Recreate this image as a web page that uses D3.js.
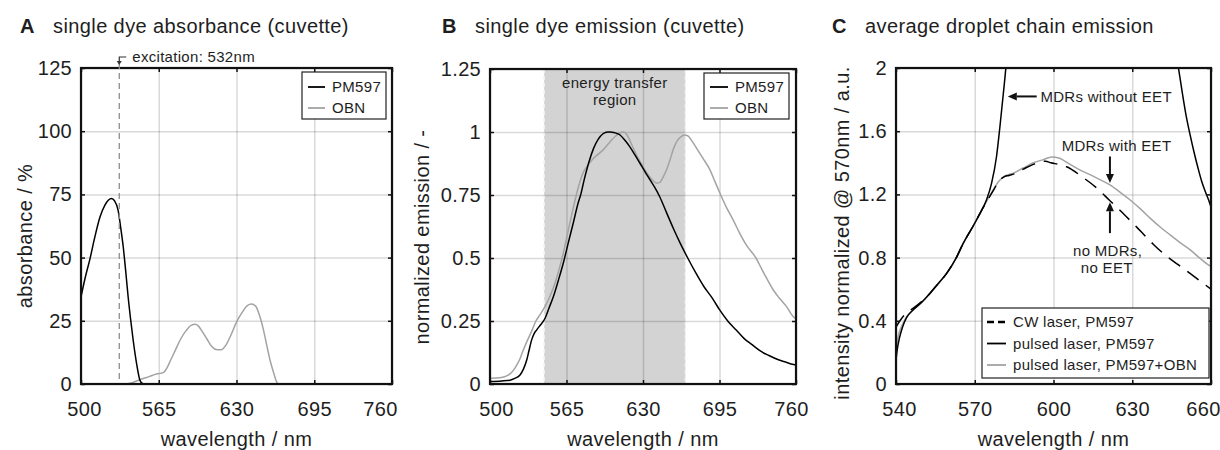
<html>

<head>
  <script src="https://d3js.org/d3.v7.min.js"></script>

  <style>
    body {
      margin: 0;
      background: #fff;
    }

    svg text {
      font-family: "Liberation Sans", Arial, sans-serif;
      fill: #1e1e1e;
    }

    .axis text {
      font-size: 20px;
      letter-spacing: 0.3px;
    }

    .axis line {
      stroke: #111;
      stroke-width: 1.5;
    }

    .axis .domain,
    .gridlines .domain {
      stroke: none;
    }

    .gridlines line {
      stroke: #000;
      stroke-opacity: 0.15;
      stroke-width: 1.5;
    }

    .label {
      font-size: 20px;
      letter-spacing: 0.4px;
    }

    .note {
      font-size: 15px;
      letter-spacing: 0.3px;
    }
  </style>
</head>

<body>
  <svg id="fig" width="1220" height="450"></svg>

  <script>
    // ---- A: absorbance ----
    const absTicksX = [500, 565, 630, 695, 760];
    const absTicksY = [0, 25, 50, 75, 100, 125];
    const excitation = 532;
    const absPM597 = [[500, 34.5], [504, 43], [507.5, 49.5], [511, 57], [515.8, 66], [520, 70.8], [523, 72.8],
    [525.5, 73.4], [528, 72.5], [531, 68.8], [533, 62.5], [535.3, 54.3], [537.5, 44], [539.4, 34.5], [541.5, 25.5],
    [543.6, 17.4], [546.4, 8.3], [549.2, 1.6], [551, 0.3], [553, 0]];
    const absOBN = [[537, 0], [542, 0.4], [547, 1.3], [552, 2.2], [557.5, 3], [562, 3.8], [566, 4.2], [569, 4.6],
    [572, 6.5], [575, 9.5], [579, 13.5], [583, 17.5], [588, 21.2], [592, 23.2], [595.5, 23.6], [598, 23], [601, 21],
    [605, 18], [609, 15], [613, 13.6], [617, 13.5], [621, 15.3], [625, 19], [630, 24.5], [635, 28.5], [639, 31],
    [642.5, 31.6], [646, 30.8], [649, 27.5], [652, 22.5], [655, 16], [658, 9.5], [661, 4.5], [663, 1.5], [664.5, 0]];

    // ---- B: emission ----
    const emTicksX = [500, 565, 630, 695, 760];
    const emTicksY = [0, 0.25, 0.5, 0.75, 1, 1.25];
    const transferRegion = [546, 666];
    const emPM597 = [[500, 0.01], [510, 0.012], [517, 0.015], [521, 0.022], [525.5, 0.036], [528.5, 0.06],
    [531.2, 0.095], [533, 0.13], [535.4, 0.175], [537.5, 0.2], [539.7, 0.215], [543, 0.235], [546.7, 0.26],
    [550, 0.3], [553.8, 0.346], [558, 0.41], [562.3, 0.48], [566.5, 0.56], [570.8, 0.64], [575, 0.72], [577, 0.75],
    [580, 0.81], [584, 0.88], [588, 0.935], [592, 0.972], [596, 0.993], [600, 1.0], [602, 1.0], [606, 0.997],
    [610.5, 0.988], [615, 0.965], [619, 0.94], [623, 0.91], [627.4, 0.876], [632, 0.84], [636, 0.81], [640, 0.78],
    [644, 0.745], [650, 0.68], [656, 0.615], [662, 0.555], [668, 0.5], [675, 0.44], [682, 0.385], [689, 0.34],
    [695, 0.295], [702, 0.25], [709, 0.215], [716, 0.18], [723, 0.155], [730, 0.13], [737, 0.113], [744, 0.098],
    [751, 0.087], [758, 0.077], [760, 0.075]];
    const emOBN = [[500, 0.023], [508, 0.025], [513, 0.03], [517, 0.04], [520, 0.055], [522.7, 0.075],
    [525.5, 0.1], [528.3, 0.135], [532, 0.175], [535.4, 0.21], [539, 0.25], [542.5, 0.275], [548.2, 0.32],
    [552, 0.36], [555.2, 0.4], [559, 0.46], [562.3, 0.52], [566.5, 0.61], [570.8, 0.70], [575, 0.78], [579.3, 0.84],
    [583.5, 0.87], [587.8, 0.895], [592, 0.912], [596.3, 0.93], [600, 0.95], [603.3, 0.968], [607, 0.985],
    [610.5, 0.997], [613.5, 1.0], [616.2, 0.99], [619, 0.965], [621.8, 0.935], [626, 0.895], [630.3, 0.86],
    [634.5, 0.83], [638.8, 0.805], [641.5, 0.797], [644.4, 0.8], [647, 0.82], [650, 0.85], [653, 0.89],
    [656, 0.935], [659, 0.965], [662, 0.98], [665, 0.988], [668, 0.985], [671.5, 0.965], [675.6, 0.935],
    [681, 0.895], [686.9, 0.85], [691, 0.805], [695.4, 0.757], [701, 0.70], [706.7, 0.65], [712, 0.6],
    [718, 0.55], [726, 0.5], [731, 0.455], [735, 0.42], [740.7, 0.373], [746, 0.34], [752, 0.307],
    [757.7, 0.267], [760, 0.26]];

    // ---- C: droplet chain ----
    const chainTicksX = [540, 570, 600, 630, 660];
    const chainTicksY = [0, 0.4, 0.8, 1.2, 1.6, 2];
    const chainCW = [[540, 0.36], [541.5, 0.40], [544, 0.45], [546.6, 0.48], [550, 0.525], [553, 0.575],
    [556, 0.635], [559.3, 0.70], [563, 0.80], [565.6, 0.89], [569.4, 1.0], [573.3, 1.12], [577.1, 1.225],
    [579, 1.28], [581, 1.31], [583, 1.32], [585, 1.33], [588.5, 1.36], [592.3, 1.39], [595, 1.405], [597, 1.41],
    [599, 1.40], [602, 1.39], [605, 1.375], [611, 1.31], [616.5, 1.24], [621.5, 1.16], [625.3, 1.10],
    [629.5, 1.03], [633.6, 0.96], [638, 0.885], [643, 0.81], [647.5, 0.755], [652, 0.70], [656, 0.65], [660, 0.60]];
    const chainPulsed = [[540, 0.15], [540.5, 0.22], [541.3, 0.29], [542.5, 0.36], [544, 0.42], [546.6, 0.47],
    [550, 0.52], [553, 0.575], [556, 0.635], [559.3, 0.70], [563, 0.80], [565.6, 0.89], [569.4, 1.0],
    [572, 1.08], [574.5, 1.166], [576.4, 1.27], [578.3, 1.44], [579.6, 1.63], [580.9, 1.84], [581.9, 2.01],
    [583, 2.25], [586, 2.7], [592, 3.2], [605, 3.5], [625, 3.4], [637, 2.9], [643, 2.45], [646, 2.15],
    [647.6, 2.0], [649, 1.85], [650.5, 1.70], [652, 1.58], [653.5, 1.47], [655, 1.37], [656.5, 1.28], [658, 1.21],
    [659.2, 1.16], [660, 1.12]];
    const chainPulsedOBN = [[540, 0.215], [540.8, 0.30], [542, 0.36], [543.5, 0.41], [546.6, 0.47], [550, 0.52],
    [553, 0.575], [556, 0.63], [559.3, 0.70], [563, 0.80], [565.6, 0.89], [569.4, 1.0], [573.3, 1.12],
    [577.1, 1.23], [579, 1.28], [580.9, 1.31], [584.7, 1.335], [588.5, 1.367], [592.3, 1.40], [596.1, 1.42],
    [599.3, 1.437], [602, 1.43], [606.3, 1.39], [610, 1.355], [613.9, 1.325], [617.5, 1.295], [621.5, 1.26],
    [625.3, 1.215], [629.1, 1.166], [633, 1.11], [636.8, 1.05], [640.5, 0.995], [644.4, 0.944], [648.2, 0.895],
    [652, 0.85], [655.5, 0.80], [659, 0.754], [660, 0.745]];

    const svg = d3.select("svg#fig");
    const gray = "#a3a3a3";

    function makePanel(p) {
      const x = d3.scaleLinear().domain(p.xDomain).range([p.left, p.right]);
      const y = d3.scaleLinear().domain(p.yDomain).range([p.bottom, p.top]);
      const w = p.right - p.left, h = p.bottom - p.top;

      svg.append("clipPath").attr("id", p.id + "-clip")
        .append("rect")
        .attr("x", p.left).attr("y", p.top)
        .attr("width", w).attr("height", h);

      const back = svg.append("g").attr("clip-path", `url(#${p.id}-clip)`);

      svg.append("g").attr("class", "gridlines")
        .attr("transform", `translate(0,${p.bottom})`)
        .call(d3.axisBottom(x).tickValues(p.xTicks).tickSize(-h).tickFormat(""));
      svg.append("g").attr("class", "gridlines")
        .attr("transform", `translate(${p.left},0)`)
        .call(d3.axisLeft(y).tickValues(p.yTicks).tickSize(-w).tickFormat(""));

      const plot = svg.append("g").attr("clip-path", `url(#${p.id}-clip)`);

      const bottom = svg.append("g").attr("class", "axis")
        .attr("transform", `translate(0,${p.bottom})`)
        .call(d3.axisBottom(x).tickValues(p.xTicks).tickSizeInner(-4).tickSizeOuter(0).tickPadding(18));
      // the outermost labels sit a little inside the frame
      bottom.selectAll(".tick text")
        .attr("dx", (d, i, n) => i === 0 ? p.firstShift : (i === n.length - 1 ? p.lastShift : 0));

      svg.append("g").attr("class", "axis")
        .attr("transform", `translate(0,${p.top})`)
        .call(d3.axisTop(x).tickValues(p.xTicks).tickSizeInner(-4).tickSizeOuter(0).tickFormat(""));
      svg.append("g").attr("class", "axis")
        .attr("transform", `translate(${p.left},0)`)
        .call(d3.axisLeft(y).tickValues(p.yTicks).tickSizeInner(-4).tickSizeOuter(0).tickPadding(9)
          .tickFormat(d => d));
      svg.append("g").attr("class", "axis")
        .attr("transform", `translate(${p.right},0)`)
        .call(d3.axisRight(y).tickValues(p.yTicks).tickSizeInner(-4).tickSizeOuter(0).tickFormat(""));

      svg.append("rect")
        .attr("x", p.left).attr("y", p.top)
        .attr("width", w).attr("height", h)
        .attr("fill", "none").attr("stroke", "#111").attr("stroke-width", 2.2);

      // title
      const t = svg.append("text").attr("class", "label").attr("y", 33);
      t.append("tspan").attr("x", p.letterX).attr("font-weight", "bold").text(p.letter);
      t.append("tspan").attr("x", p.letterX + 33).text(p.title);

      svg.append("text").attr("class", "label")
        .attr("x", (p.left + p.right) / 2).attr("y", 446)
        .attr("text-anchor", "middle")
        .text("wavelength / nm");

      svg.append("text").attr("class", "label")
        .attr("transform", `translate(${p.yLabelX},${p.yLabelY}) rotate(-90)`)
        .attr("text-anchor", "middle")
        .text(p.yLabel);

      return { x, y, back, plot };
    }

    function drawLine(panel, data, color, dash) {
      const line = d3.line()
        .x(d => panel.x(d[0]))
        .y(d => panel.y(d[1]))
        .curve(d3.curveMonotoneX);
      panel.plot.append("path")
        .datum(data)
        .attr("d", line)
        .attr("fill", "none")
        .attr("stroke", color)
        .attr("stroke-width", 1.5)
        .attr("stroke-dasharray", dash || null);
    }

    function legend(box, items) {
      const g = svg.append("g");
      g.append("rect")
        .attr("x", box.x).attr("y", box.y)
        .attr("width", box.w).attr("height", box.h)
        .attr("fill", "#fff").attr("stroke", "#222").attr("stroke-width", 1.2);
      items.forEach((it, i) => {
        const yy = box.y + box.first + i * box.step;
        g.append("line")
          .attr("x1", box.x + box.pad).attr("x2", box.x + box.pad + box.len)
          .attr("y1", yy).attr("y2", yy)
          .attr("stroke", it.color)
          .attr("stroke-width", it.dash ? 2.5 : 1.8)
          .attr("stroke-dasharray", it.dash || null);
        g.append("text").attr("class", "note")
          .attr("x", box.x + box.pad + box.len + 7).attr("y", yy)
          .attr("dy", "0.36em")
          .text(it.label);
      });
    }

    function arrow(x1, y1, x2, y2) {
      const ang = Math.atan2(y2 - y1, x2 - x1);
      const L = 9, W = 4;
      const bx = x2 - L * Math.cos(ang), by = y2 - L * Math.sin(ang);
      svg.append("line")
        .attr("x1", x1).attr("y1", y1).attr("x2", bx).attr("y2", by)
        .attr("stroke", "#111").attr("stroke-width", 2);
      svg.append("path")
        .attr("d", `M${x2},${y2}L${bx - W * Math.sin(ang)},${by + W * Math.cos(ang)}` +
          `L${bx + W * Math.sin(ang)},${by - W * Math.cos(ang)}Z`)
        .attr("fill", "#111");
    }

    // ---------- panel A ----------
    const pA = makePanel({
      id: "a", left: 81, right: 392, top: 68, bottom: 384,
      xDomain: [500, 760], yDomain: [0, 125], xTicks: absTicksX, yTicks: absTicksY,
      firstShift: 3, lastShift: -12,
      letter: "A", letterX: 20, title: "single dye absorbance (cuvette)",
      yLabel: "absorbance / %", yLabelX: 32, yLabelY: 236
    });
    drawLine(pA, absOBN, gray);
    drawLine(pA, absPM597, "#000");

    const exX = pA.x(excitation);
    svg.append("line")
      .attr("x1", exX).attr("x2", exX).attr("y1", 63).attr("y2", 383)
      .attr("stroke", "#8c8c8c").attr("stroke-width", 1.3).attr("stroke-dasharray", "6,4");
    svg.append("path")
      .attr("d", `M${exX},63V57H${exX + 7}`)
      .attr("fill", "none").attr("stroke", "#333").attr("stroke-width", 1.2);
    svg.append("path")
      .attr("d", `M${exX - 2.5},61L${exX + 2.5},61L${exX},65Z`).attr("fill", "#333");
    svg.append("text").attr("class", "note")
      .attr("x", exX + 13).attr("y", 62)
      .text("excitation: 532nm");

    legend({ x: 302, y: 72, w: 84, h: 47, first: 15, step: 21, pad: 6, len: 17 }, [
      { label: "PM597", color: "#000" },
      { label: "OBN", color: gray }
    ]);

    // ---------- panel B ----------
    const pB = makePanel({
      id: "b", left: 490, right: 796, top: 69, bottom: 384,
      xDomain: [500, 760], yDomain: [0, 1.25], xTicks: emTicksX, yTicks: emTicksY,
      firstShift: 6, lastShift: -5,
      letter: "B", letterX: 442, title: "single dye emission (cuvette)",
      yLabel: "normalized emission / -", yLabelX: 429, yLabelY: 237
    });
    pB.back.append("rect")
      .attr("x", pB.x(transferRegion[0]))
      .attr("y", 69)
      .attr("width", pB.x(transferRegion[1]) - pB.x(transferRegion[0]))
      .attr("height", 315)
      .attr("fill", "#d3d3d3");
    pB.back.selectAll("line.edge")
      .data(transferRegion)
      .enter().append("line")
      .attr("class", "edge")
      .attr("x1", d => pB.x(d)).attr("x2", d => pB.x(d))
      .attr("y1", 69).attr("y2", 384)
      .attr("stroke", "#f2f2f2").attr("stroke-width", 1.5).attr("stroke-dasharray", "4,3");
    drawLine(pB, emOBN, gray);
    drawLine(pB, emPM597, "#000");

    const regionX = (pB.x(transferRegion[0]) + pB.x(transferRegion[1])) / 2;
    svg.append("text").attr("class", "note")
      .attr("x", regionX).attr("y", 88).attr("text-anchor", "middle")
      .text("energy transfer");
    svg.append("text").attr("class", "note")
      .attr("x", regionX).attr("y", 105).attr("text-anchor", "middle")
      .text("region");

    legend({ x: 704, y: 73, w: 85, h: 46, first: 14, step: 21, pad: 6, len: 18 }, [
      { label: "PM597", color: "#000" },
      { label: "OBN", color: gray }
    ]);

    // ---------- panel C ----------
    const pC = makePanel({
      id: "c", left: 896, right: 1211, top: 68, bottom: 384,
      xDomain: [540, 660], yDomain: [0, 2], xTicks: chainTicksX, yTicks: chainTicksY,
      firstShift: 3, lastShift: -8,
      letter: "C", letterX: 832, title: "average droplet chain emission",
      yLabel: "intensity normalized @ 570nm / a.u.", yLabelX: 849, yLabelY: 233
    });
    drawLine(pC, chainPulsedOBN, gray);
    drawLine(pC, chainPulsed, "#000");
    drawLine(pC, chainCW, "#000", "14,9");

    arrow(pC.x(593.6), pC.y(1.82), pC.x(582.6), pC.y(1.82));
    svg.append("text").attr("class", "note")
      .attr("x", pC.x(595)).attr("y", pC.y(1.82)).attr("dy", "0.36em")
      .text("MDRs without EET");

    svg.append("text").attr("class", "note")
      .attr("x", pC.x(624)).attr("y", pC.y(1.472)).attr("text-anchor", "middle")
      .text("MDRs with EET");
    arrow(pC.x(621.5), pC.y(1.44), pC.x(621.5), pC.y(1.272));
    arrow(pC.x(621.5), pC.y(0.955), pC.x(621.5), pC.y(1.15));
    svg.append("text").attr("class", "note")
      .attr("x", pC.x(620.6)).attr("y", pC.y(0.807)).attr("text-anchor", "middle")
      .text("no MDRs,");
    svg.append("text").attr("class", "note")
      .attr("x", pC.x(620.3)).attr("y", pC.y(0.70)).attr("text-anchor", "middle")
      .text("no EET");

    legend({ x: 982, y: 308, w: 227, h: 70, first: 14, step: 21.5, pad: 5, len: 19 }, [
      { label: "CW laser, PM597", color: "#000", dash: "7,4" },
      { label: "pulsed laser, PM597", color: "#000" },
      { label: "pulsed laser, PM597+OBN", color: gray }
    ]);
  </script>

</body>

</html>
